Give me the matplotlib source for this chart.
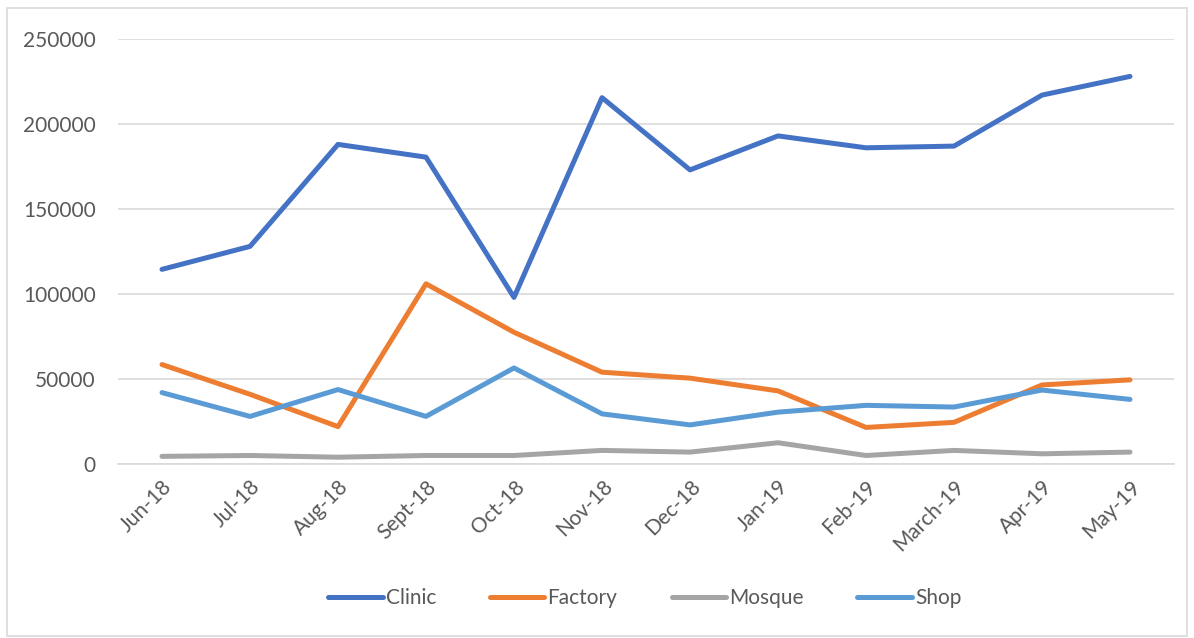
import matplotlib.pyplot as plt
from matplotlib.patches import Rectangle

months = ["Jun-18", "Jul-18", "Aug-18", "Sept-18", "Oct-18", "Nov-18", "Dec-18",
          "Jan-19", "Feb-19", "March-19", "Apr-19", "May-19"]
clinic = [114500, 128000, 188000, 180500, 98000, 215500, 173000, 193000, 186000, 187000, 217000, 228000]
factory = [58500, 41000, 22000, 106000, 77500, 54000, 50500, 43000, 21500, 24500, 46500, 49500]
mosque = [4500, 5000, 4000, 5000, 5000, 8000, 7000, 12500, 5000, 8000, 6000, 7000]
shop = [42000, 28000, 43800, 28000, 56500, 29500, 23000, 30500, 34500, 33500, 43500, 38000]

series = [("Clinic", clinic, "#4472C4"), ("Factory", factory, "#ED7D31"),
          ("Mosque", mosque, "#A5A5A5"), ("Shop", shop, "#5B9BD5")]

plt.rcParams['font.family'] = ['Lato', 'DejaVu Sans']
text_color = "#595959"

fig = plt.figure(figsize=(11.94, 6.38), dpi=100)
ax = fig.add_axes([118 / 1194, 1 - 464 / 638, (1174 - 118) / 1194, (464 - 39) / 638])

x = range(len(months))
for name, vals, color in series:
    ax.plot(x, vals, color=color, linewidth=3.6, solid_capstyle="round", label=name)

ax.set_xlim(-0.5, len(months) - 0.5)
ax.set_ylim(0, 250000)
ax.set_yticks(range(0, 250001, 50000))
ax.yaxis.grid(True, color="#D9D9D9", linewidth=1.2)
ax.set_axisbelow(True)
for s in ["top", "right", "left"]:
    ax.spines[s].set_visible(False)
ax.spines["bottom"].set_color("#D9D9D9")
ax.spines["bottom"].set_linewidth(1.2)
ax.tick_params(length=0, colors=text_color, labelsize=15)
ax.tick_params(axis="y", pad=16)
ax.set_xticks(list(x))
ax.set_xticklabels(months, rotation=45, ha="right", rotation_mode="anchor")
ax.tick_params(axis="x", pad=9)

leg = fig.legend(loc="center", bbox_to_anchor=(0.54, 1 - 598 / 638), ncol=4, frameon=False,
                 fontsize=15, handlelength=2.6, columnspacing=2.6, handletextpad=0.15)
for t in leg.get_texts():
    t.set_color(text_color)

fig.patches.append(Rectangle((7 / 1194, 2 / 638), 1180 / 1194, 628 / 638, transform=fig.transFigure,
                             fill=False, edgecolor="#D9D9D9", linewidth=1.2))

fig.savefig("out.png", dpi=100)
